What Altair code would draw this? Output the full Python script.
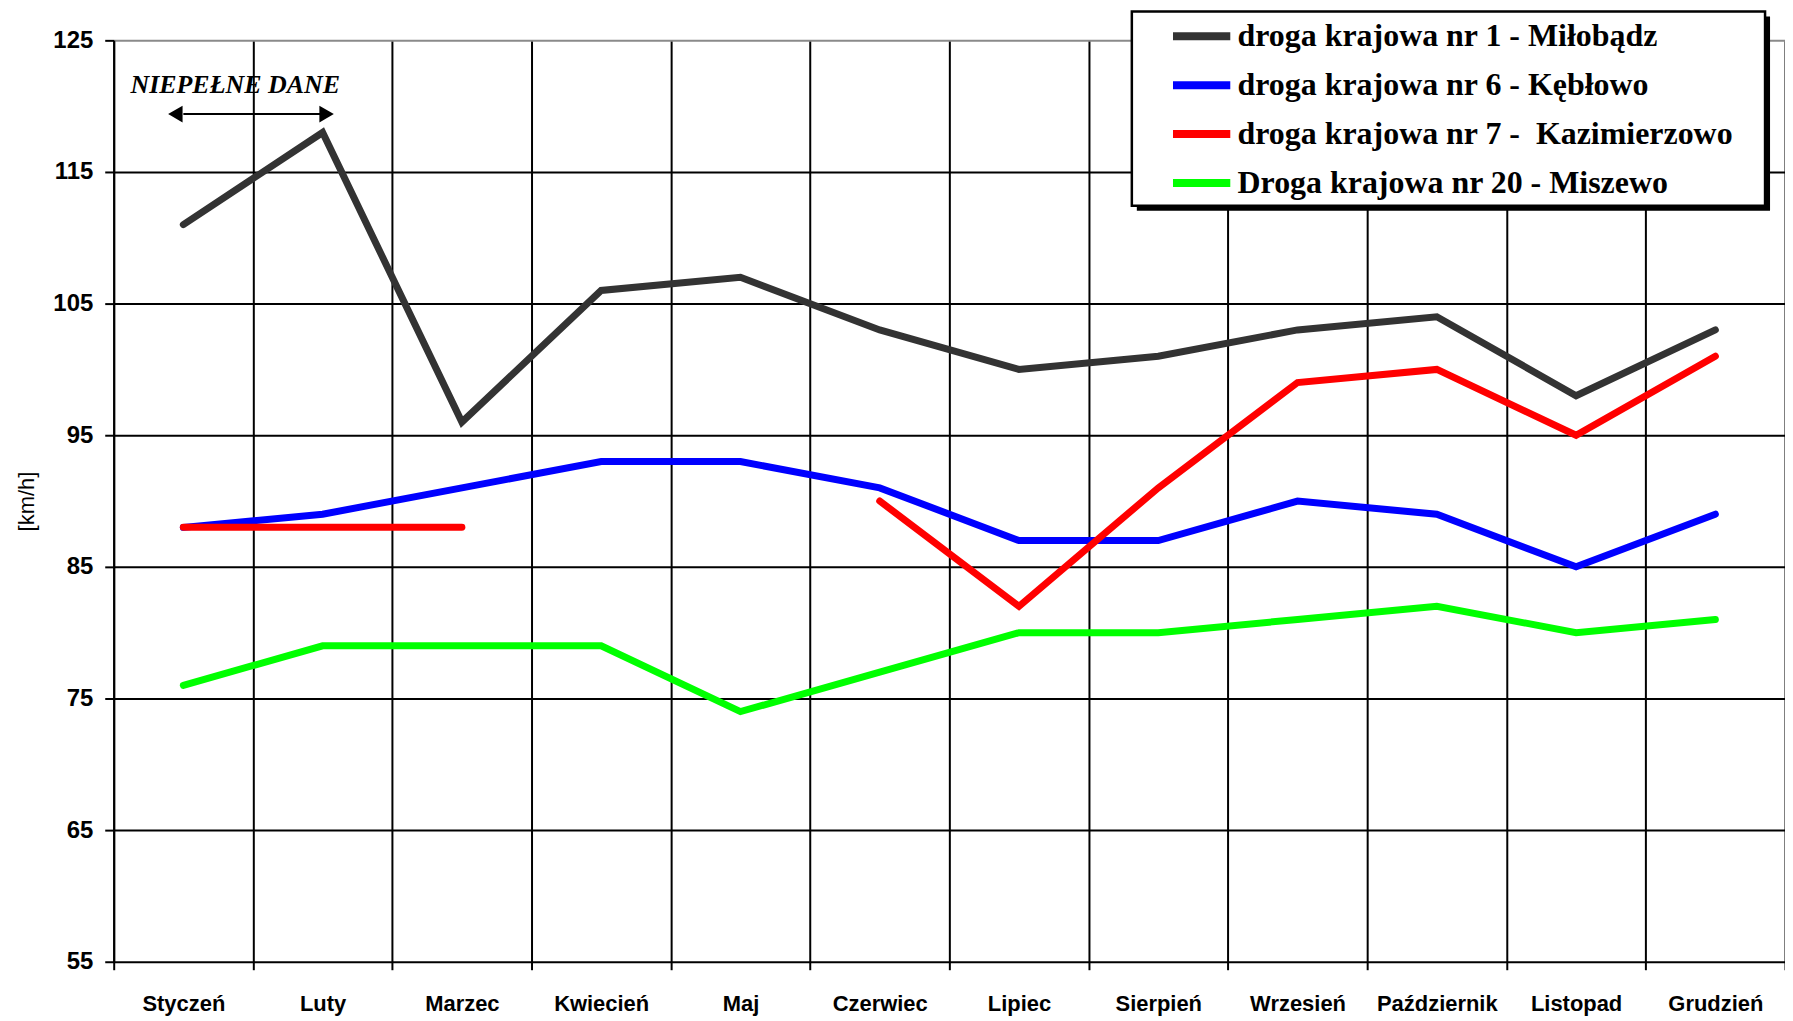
import altair as alt
import pandas as pd

# ---------------- data ----------------
months = ["Styczeń", "Luty", "Marzec", "Kwiecień", "Maj", "Czerwiec",
          "Lipiec", "Sierpień", "Wrzesień", "Październik", "Listopad", "Grudzień"]
series_names = [
    "droga krajowa nr 1 - Miłobądz",
    "droga krajowa nr 6 - Kębłowo",
    "droga krajowa nr 7 -\u00a0 Kazimierzowo",
    "Droga krajowa nr 20 - Miszewo",
]
series_colors = ["#333333", "#0000FF", "#FF0000", "#00FF00"]
dk1 = [111, 118, 96, 106, 107, 103, 100, 101, 103, 104, 98, 103]
dk6 = [88, 89, 91, 93, 93, 91, 87, 87, 90, 89, 85, 89]
dk7 = [88, 88, 88, None, None, 90, 82, 91, 99, 100, 95, 101]
dk20 = [76, 79, 79, 79, 74, 77, 80, 80, 81, 82, 80, 81]
y_ticks = [55, 65, 75, 85, 95, 105, 115, 125]
y_title = "[km/h]"
note_text = "NIEPEŁNE DANE"
note_months = ["Styczeń", "Luty"]

# ---------------- table ----------------
rows = []
for s_idx, (name, vals) in enumerate(zip(series_names, [dk1, dk6, dk7, dk20])):
    seg = 0
    prev_none = False
    for m, v in zip(months, vals):
        if v is None:
            if not prev_none:
                seg += 1
            prev_none = True
            continue
        prev_none = False
        rows.append({"month": m, "value": v, "series": name, "seg": f"{s_idx}-{seg}"})
df = pd.DataFrame(rows)

W, H = 1676, 924

x_enc = alt.X(
    "month:N",
    sort=months,
    scale=alt.Scale(type="band", domain=months, paddingInner=0, paddingOuter=0),
    title=None,
    axis=alt.Axis(
        labelAngle=0,
        labelFont="Liberation Sans",
        labelFontWeight="bold",
        labelFontSize=22,
        labelColor="black",
        labelPadding=24,
        tickBand="extent",
        ticks=True,
        tickSize=8,
        tickWidth=2,
        tickColor="black",
        grid=True,
        gridColor="black",
        gridWidth=2,
        domain=False,
    ),
)
y_enc = alt.Y(
    "value:Q",
    scale=alt.Scale(domain=[55, 125], nice=False, zero=False),
    axis=alt.Axis(
        values=y_ticks,
        title=y_title,
        labelFont="Liberation Sans",
        labelFontWeight="bold",
        labelFontSize=24,
        labelColor="black",
        labelPadding=12,
        tickSize=9,
        tickWidth=2,
        tickColor="black",
        grid=True,
        gridColor={"condition": {"test": "datum.value === 125", "value": "#8a8a8a"}, "value": "black"},
        gridWidth=2,
        domainColor="black",
        domainWidth=2,
        titleFont="Liberation Sans",
        titleFontWeight="normal",
        titleFontSize=22,
        titleColor="black",
        titleAngle=270,
        titleX=-87,
        titleY=H / 2,
        titleAlign="center",
        titleBaseline="middle",
    ),
)

one = pd.DataFrame({"k": [0]})

shadow = alt.Chart(one).mark_rect(color="black").encode(
    x=alt.value(1026), x2=alt.value(1661), y=alt.value(-24), y2=alt.value(171)
)
box = alt.Chart(one).mark_rect(fill="white", stroke="black", strokeWidth=2.5).encode(
    x=alt.value(1021), x2=alt.value(1656), y=alt.value(-29), y2=alt.value(166)
)

lines = alt.Chart(df).mark_line(strokeWidth=7, strokeCap="round").encode(
    x=x_enc,
    y=y_enc,
    color=alt.Color(
        "series:N",
        scale=alt.Scale(domain=series_names, range=series_colors),
        legend=alt.Legend(
            title=None,
            orient="none",
            legendX=1058,
            legendY=-37,
            direction="vertical",
            symbolType="stroke",
            symbolSize=3300,
            symbolStrokeWidth=8,
            labelFont="Liberation Serif",
            labelFontWeight="bold",
            labelFontSize=32,
            labelColor="black",
            labelOffset=3,
            labelLimit=1000,
            rowPadding=-20,
            padding=0,
        ),
    ),
    detail="seg:N",
)

arrow_df = pd.DataFrame({"month": note_months, "value": [119.4, 119.4]})
arrow = alt.Chart(arrow_df).mark_line(strokeWidth=2, color="black").encode(x=x_enc, y=y_enc)
head_l = alt.Chart(arrow_df.iloc[[0]]).mark_point(
    shape="triangle-left", filled=True, size=280, color="black", opacity=1, xOffset=-8
).encode(x=x_enc, y=y_enc)
head_r = alt.Chart(arrow_df.iloc[[1]]).mark_point(
    shape="triangle-right", filled=True, size=280, color="black", opacity=1, xOffset=4
).encode(x=x_enc, y=y_enc)

note_df = pd.DataFrame({"month": [note_months[0]], "value": [121.0], "label": [note_text]})
note = alt.Chart(note_df).mark_text(
    font="Liberation Serif", fontStyle="italic", fontWeight="bold", fontSize=26,
    color="black", align="center", baseline="alphabetic", dx=52,
).encode(x=x_enc, y=y_enc, text="label:N")

chart = alt.layer(shadow, box, lines, arrow, head_l, head_r, note).properties(
    width=W,
    height=H,
    autosize=alt.AutoSizeParams(type="none"),
    padding={"left": 106, "top": 31, "right": 0, "bottom": 58},
    background="white",
).configure_view(stroke="transparent")

chart.save("out.html", embed_options={"renderer": "svg", "actions": False})
